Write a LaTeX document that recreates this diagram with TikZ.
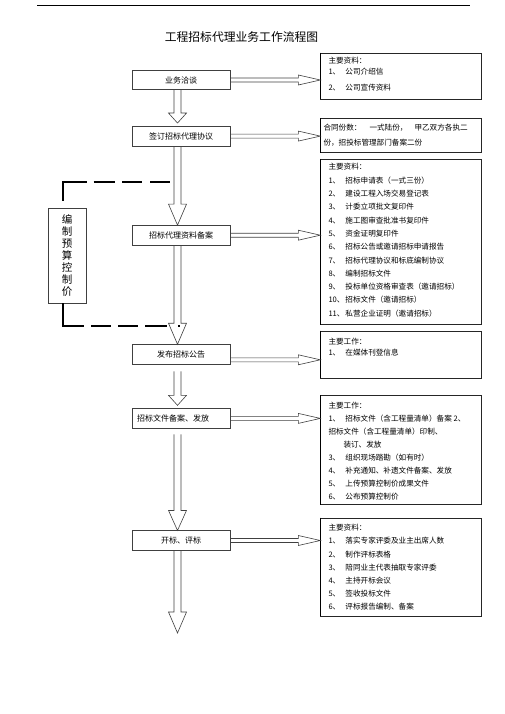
\documentclass[tikz,border=0pt]{standalone}
\usepackage{fontspec}
\setmainfont{Noto Sans CJK SC}
\usetikzlibrary{positioning,calc}
\tikzstyle{box} = [draw=black!75, rectangle, fill=white, inner sep=0pt, minimum width=98pt, minimum height=19.5pt, line width=0.6pt, font=\fontsize{8}{10}\selectfont]
\tikzstyle{docbox} = [draw=black!85, rectangle, inner sep=0pt, minimum width=161pt, line width=0.6pt]
\tikzstyle{doctext} = [inner sep=0pt, align=left, font=\fontsize{7.6}{13.3}\selectfont]
\tikzstyle{budline} = [line width=2pt, black]
\tikzset{
  varrow/.style={draw=black!75, line width=0.6pt, to path={let \p1=(\tikztostart), \p2=(\tikztotarget) in
    (\x1-3.5pt,\y1) -- (\x1-3.5pt,\y2+#1) -- (\x1-9pt,\y2+#1) -- (\x1,\y2)
    -- (\x1+9pt,\y2+#1) -- (\x1+3.5pt,\y2+#1) -- (\x1+3.5pt,\y1) \tikztonodes}},
  varrow/.default=21pt,
  harrow/.style={draw=black!75, line width=0.6pt, to path={let \p1=(\tikztostart), \p2=(\tikztotarget) in
    (\x1,\y1+2pt) -- (\x2-22pt,\y1+2pt) -- (\x2-22pt,\y1+5pt) -- (\x2,\y1)
    -- (\x2-22pt,\y1-5pt) -- (\x2-22pt,\y1-2pt) -- (\x1,\y1-2pt) \tikztonodes}}
}
\newcommand{\itemno}[1]{\makebox[17pt][l]{#1}}

\begin{document}
\begin{tikzpicture}[x=1pt, y=-1pt, node distance=36pt]
	\useasboundingbox (0,0) rectangle (505,714);
	\coordinate (rulel) at (37,6);
	\coordinate (ruler) at (470,6);
	\draw[line width=1pt] (rulel) -- (ruler);
	\node[font=\fontsize{11.8}{14}\selectfont] (title) at (241.5,37) {工程招标代理业务工作流程图};

	% main steps
	\node[box] (talk) at (181,80) {业务洽谈};
	\node[box, below=36pt of talk] (sign) {签订招标代理协议};
	\node[box, below=79pt of sign] (file) {招标代理资料备案};
	\node[box, below=99pt of file] (notice) {发布招标公告};
	\node[box, below=44pt of notice, text width=88pt, align=left] (issue) {招标文件备案、发放};
	\node[box, below=102pt of issue] (open) {开标、评标};
	\coordinate (fin) at (177.5,633);

	% side notes
	\node[docbox, right=90pt of talk, yshift=4pt, minimum height=46pt] (info1) {};
	\node[docbox, right=90pt of sign, yshift=0.5pt, minimum height=34pt] (info2) {};
	\node[docbox, right=90pt of file, yshift=-6.5pt, minimum height=165pt] (info3) {};
	\node[docbox, right=90pt of notice, minimum height=47pt] (info4) {};
	\node[docbox, right=90pt of issue, yshift=-31.5pt, minimum height=109pt] (info5) {};
	\node[docbox, right=90pt of open, yshift=-26.5pt, minimum height=98pt] (info6) {};
	\foreach \i in {1,...,6}
		\draw[line width=1.4pt] (info\i.north west) -- (info\i.south west);

	\node[doctext, font=\fontsize{7.6}{11.5}\selectfont, below right=4.2pt and 8pt of info1.north west] (txt1)
		{主要资料：\\ \itemno{1、}公司介绍信\\[4.5pt] \itemno{2、}公司宣传资料};
	\node[doctext, font=\fontsize{7.6}{15}\selectfont, below right=5.5pt and 3pt of info2.north west] (txt2)
		{合同份数：\hspace{8pt}一式陆份，\hspace{7pt}甲乙双方各执二\\ 份，招投标管理部门备案二份};
	\node[doctext, below right=4.5pt and 8pt of info3.north west] (txt3)
		{主要资料：\\
		\itemno{1、}招标申请表（一式三份）\\
		\itemno{2、}建设工程入场交易登记表\\
		\itemno{3、}计委立项批文复印件\\
		\itemno{4、}施工图审查批准书复印件\\
		\itemno{5、}资金证明复印件\\
		\itemno{6、}招标公告或邀请招标申请报告\\
		\itemno{7、}招标代理协议和标底编制协议\\
		\itemno{8、}编制招标文件\\
		\itemno{9、}投标单位资格审查表（邀请招标）\\
		\itemno{10、}招标文件（邀请招标）\\
		\itemno{11、}私营企业证明（邀请招标）};
	\node[doctext, font=\fontsize{7.6}{11}\selectfont, below right=7.5pt and 8pt of info4.north west] (txt4)
		{主要工作：\\ \itemno{1、}在媒体刊登信息};
	\node[doctext, font=\fontsize{7.6}{13}\selectfont, below right=6.5pt and 8pt of info5.north west] (txt5)
		{主要工作：\\
		\itemno{1、}招标文件（含工程量清单）备案 2、\\
		招标文件（含工程量清单）印制、\\
		\hspace*{15pt}装订、发放\\
		\itemno{3、}组织现场踏勘（如有时）\\
		\itemno{4、}补充通知、补遗文件备案、发放\\
		\itemno{5、}上传预算控制价成果文件\\
		\itemno{6、}公布预算控制价};
	\node[doctext, font=\fontsize{7.6}{13.2}\selectfont, below right=6.5pt and 8pt of info6.north west] (txt6)
		{主要资料：\\
		\itemno{1、}落实专家评委及业主出席人数\\
		\itemno{2、}制作评标表格\\
		\itemno{3、}陪同业主代表抽取专家评委\\
		\itemno{4、}主持开标会议\\
		\itemno{5、}签收投标文件\\
		\itemno{6、}评标报告编制、备案};

	% flow arrows
	\draw[varrow=10pt] ([xshift=-3.5pt]talk.south) to ([xshift=-3.5pt,yshift=3pt]sign.north);
	\draw[varrow] ([xshift=-3.5pt]sign.south) to ([xshift=-3.5pt]file.north);
	\draw[varrow] ([xshift=-3.5pt]file.south) to ([xshift=-3.5pt]notice.north);
	\draw[varrow=10pt] ([xshift=-3.5pt,yshift=-7pt]notice.south) to ([xshift=-3.5pt,yshift=3pt]issue.north);
	\draw[varrow=20pt] ([xshift=-3.5pt,yshift=-6pt]issue.south) to ([xshift=-3.5pt]open.north);
	\draw[varrow] ([xshift=-3.5pt]open.south) to (fin);

	\draw[harrow] (talk.east) to (info1.west);
	\draw[harrow] (sign.east) to (info2.west);
	\draw[harrow] (file.east) to (info3.west);
	\draw[harrow] ([yshift=-5.5pt]notice.east) to (info4.west);
	\draw[harrow] (issue.east) to (info5.west);
	\draw[harrow] (open.east) to (info6.west);

	% budget loop
	\node[box, minimum width=38pt, minimum height=95pt, align=center, font=\fontsize{10.5}{12}\selectfont] (budget) at (67,255.5)
		{编\\制\\预\\算\\控\\制\\价};
	\coordinate (budtop) at (170,182);
	\coordinate (budbot) at (180,326);
	\draw[budline, dash pattern=on 42.7pt off 6.6pt on 21.7pt off 6.7pt on 20pt off 8.3pt on 20pt] ([xshift=-4pt,yshift=7pt]budget.north) |- (budtop);
	\draw[budline, dash pattern=on 44pt off 7pt on 20pt off 7pt on 20pt off 7pt on 22pt off 11pt on 2pt] ([xshift=-4pt]budget.south) |- (budbot);
\end{tikzpicture}
\end{document}
